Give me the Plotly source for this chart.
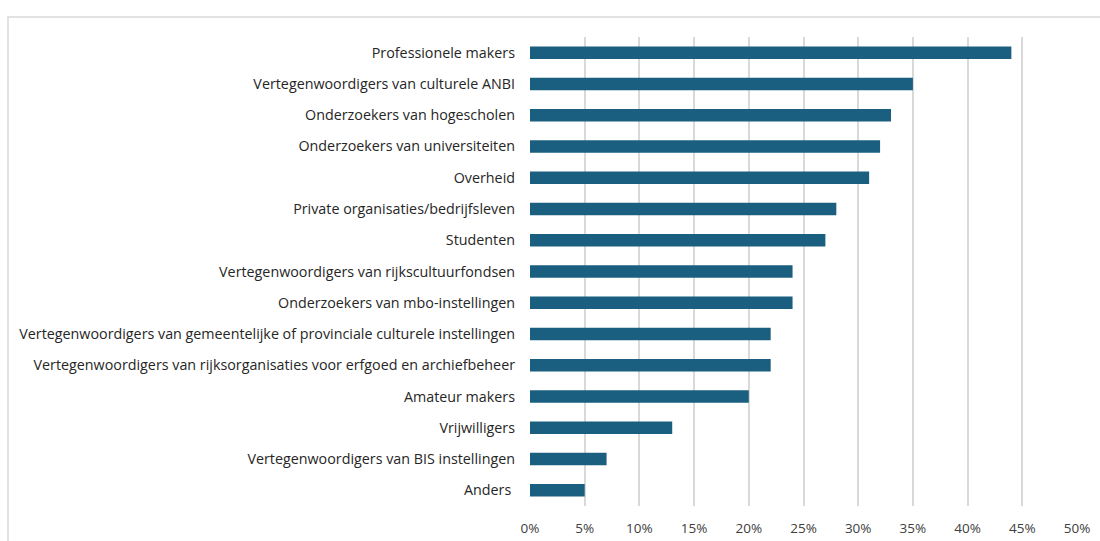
import plotly.graph_objects as go

categories = [
    "Professionele makers",
    "Vertegenwoordigers van culturele ANBI",
    "Onderzoekers van hogescholen",
    "Onderzoekers van universiteiten",
    "Overheid",
    "Private organisaties/bedrijfsleven",
    "Studenten",
    "Vertegenwoordigers van rijkscultuurfondsen",
    "Onderzoekers van mbo-instellingen",
    "Vertegenwoordigers van gemeentelijke of provinciale culturele instellingen",
    "Vertegenwoordigers van rijksorganisaties voor erfgoed en archiefbeheer",
    "Amateur makers",
    "Vrijwilligers",
    "Vertegenwoordigers van BIS instellingen",
    "Anders ",
]
values = [0.44, 0.35, 0.33, 0.32, 0.31, 0.28, 0.27, 0.24, 0.24, 0.22, 0.22, 0.20, 0.13, 0.07, 0.05]
tick_vals = [0, 0.05, 0.10, 0.15, 0.20, 0.25, 0.30, 0.35, 0.40, 0.45, 0.50]
tick_text = ["0%", "5%", "10%", "15%", "20%", "25%", "30%", "35%", "40%", "45%", "50%"]

fig = go.Figure(go.Bar(
    x=values, y=categories, orientation="h",
    marker=dict(color="#1a5f80", line=dict(width=0)),
    width=0.4,
))

W, H = 1100, 541
ml, mr, mt, mb = 530, 23, 37, 35
pw, ph = W - ml - mr, H - mt - mb

def px_x(p):
    return (p - ml) / pw

def px_y(p):
    return (H - mb - p) / ph

fig.update_layout(
    width=W, height=H,
    margin=dict(l=ml, r=mr, t=mt, b=mb, autoexpand=False),
    paper_bgcolor="white", plot_bgcolor="white",
    font=dict(family="'Open Sans', 'Noto Sans', Arial, sans-serif", size=14, color="#262626"),
    showlegend=False,
    xaxis=dict(
        range=[0, 0.5], tickvals=tick_vals, ticktext=tick_text,
        showgrid=True, gridcolor="#d9d9d9", gridwidth=1.5,
        zeroline=False, showline=False, ticks="",
        ticklabelstandoff=12,
        tickfont=dict(size=13.5, color="#404040"),
    ),
    yaxis=dict(
        autorange="reversed", showgrid=False, showline=False, ticks="",
        ticklabelstandoff=14,
        tickfont=dict(size=14.3, color="#262626"),
    ),
    shapes=[dict(
        type="rect", xref="paper", yref="paper",
        x0=px_x(8), x1=px_x(1110), y0=px_y(560), y1=px_y(17),
        line=dict(color="#d9d9d9", width=1.5), fillcolor="rgba(0,0,0,0)",
        layer="below",
    )],
)

fig.write_html(
    "out.html",
    config={"displayModeBar": False},
    post_script="document.body.style.margin='0';document.body.style.overflow='hidden';",
)
